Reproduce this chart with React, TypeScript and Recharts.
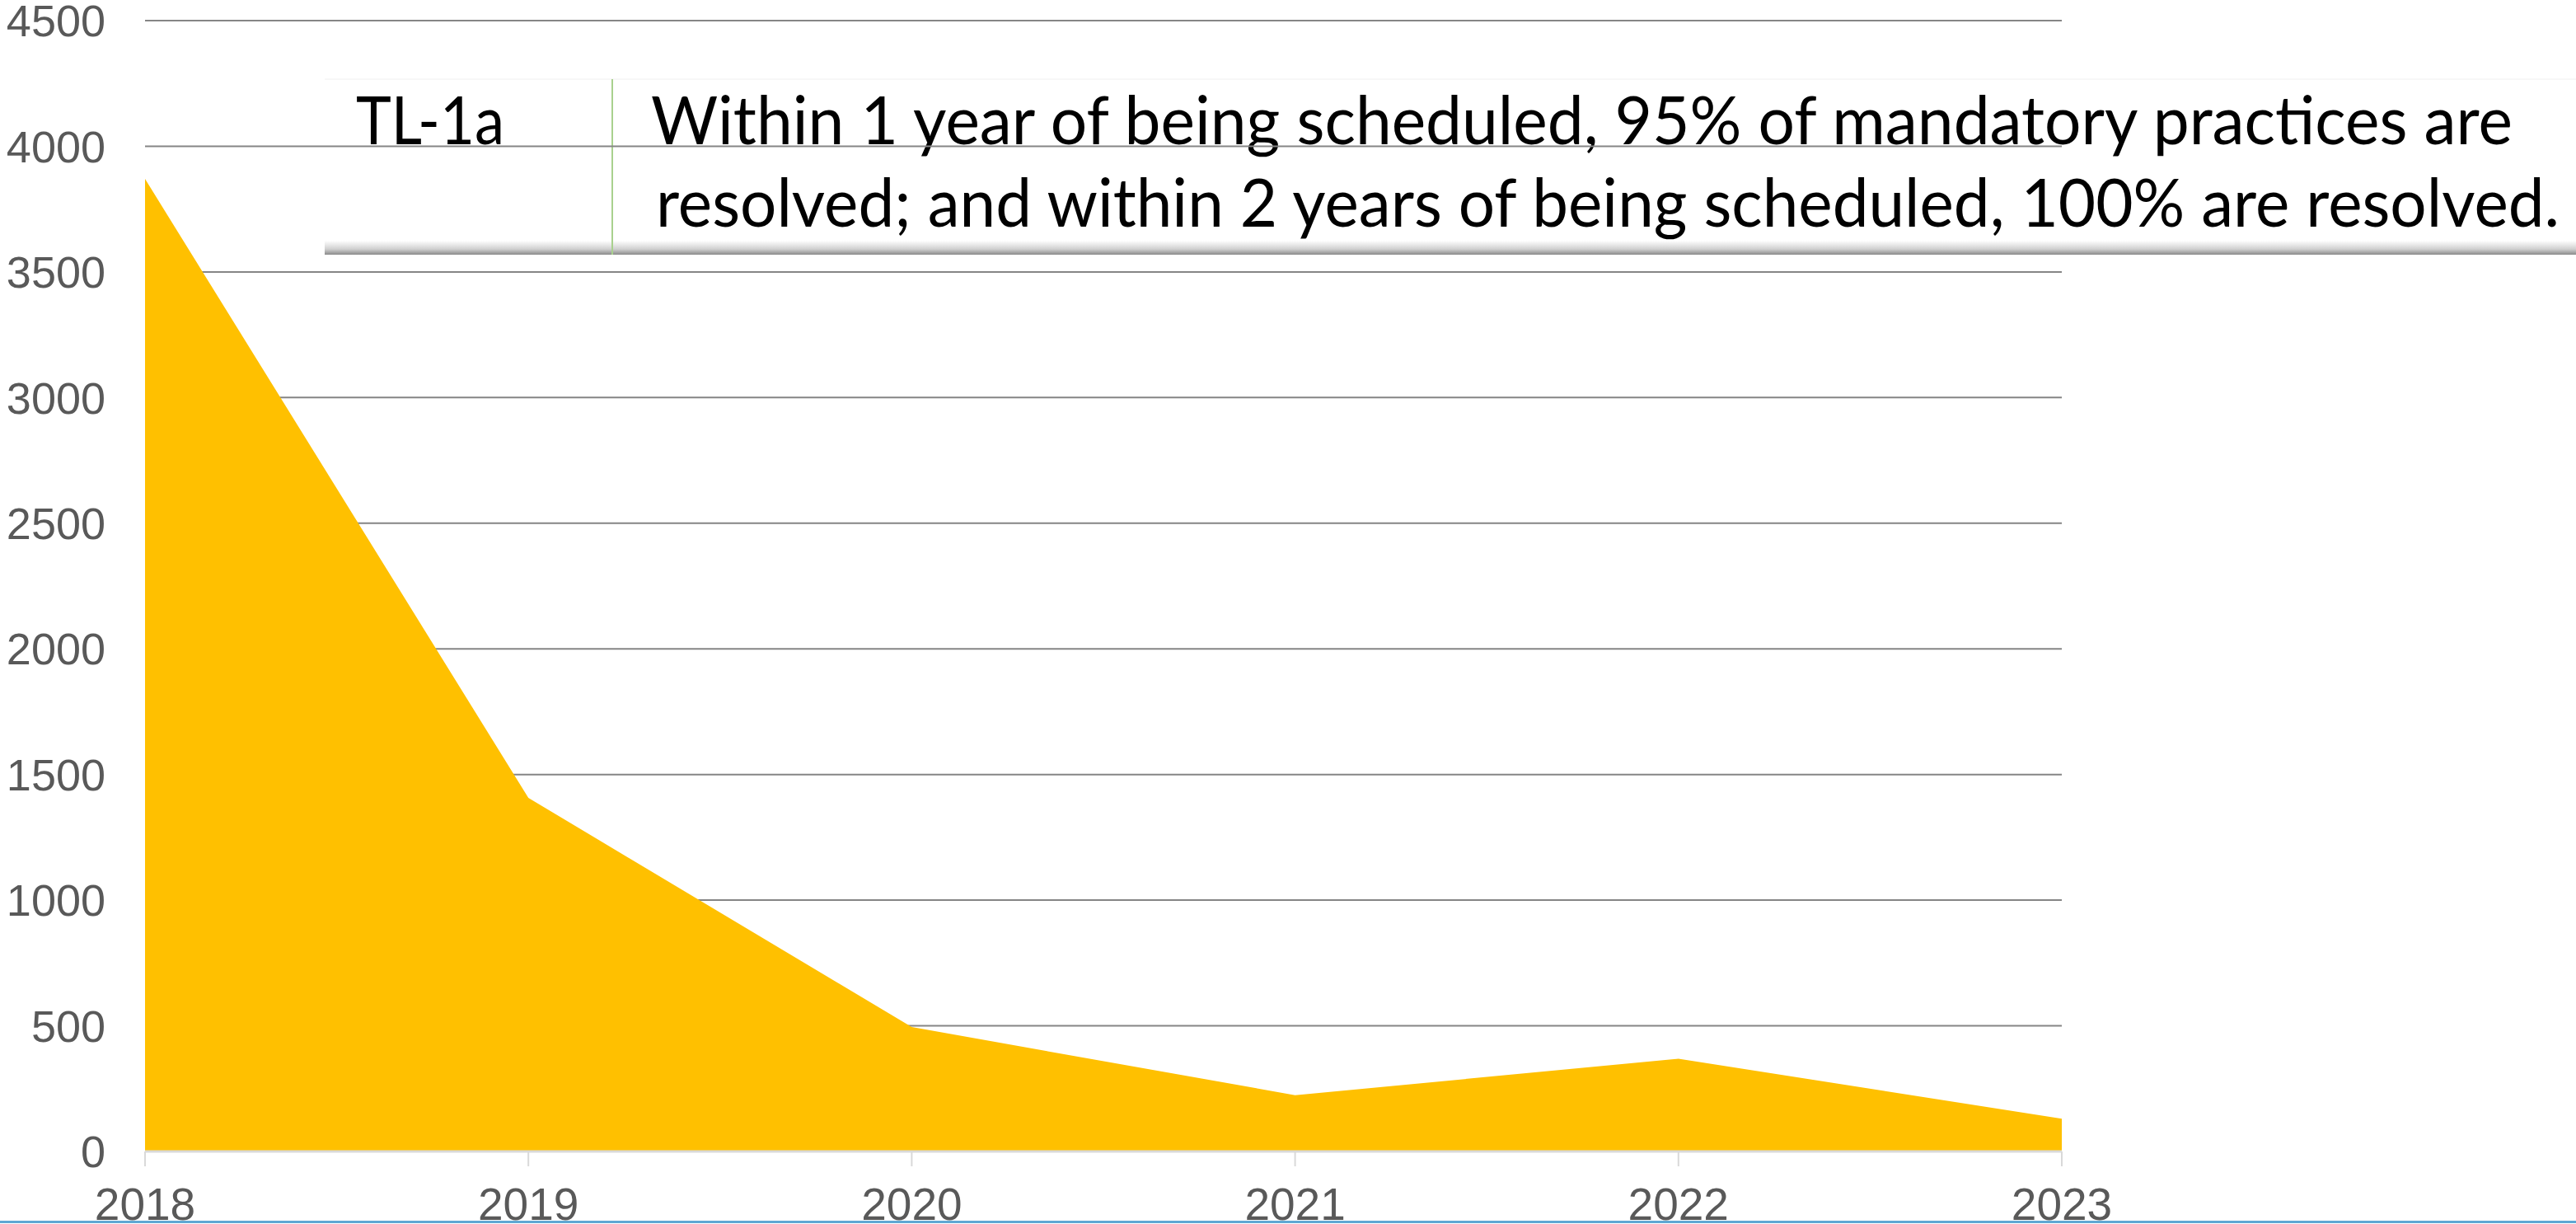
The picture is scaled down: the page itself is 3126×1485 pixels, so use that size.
import React from 'react';
import { AreaChart, Area, XAxis, YAxis, CartesianGrid } from 'recharts';

const years = ['2018', '2019', '2020', '2021', '2022', '2023'];
const counts = [3870, 1407, 495, 224, 369, 130];
const yTicks = [0, 500, 1000, 1500, 2000, 2500, 3000, 3500, 4000, 4500];
const boxCode = 'TL-1a';
const boxLines = [
  'Within 1 year of being scheduled, 95% of mandatory practices are',
  'resolved; and within 2 years of being scheduled, 100% are resolved.',
];

const data = years.map((year, i) => ({ year, count: counts[i] }));

const W = 3126;
const H = 1485;

function Callout() {
  return (
    <svg
      width={W}
      height={H}
      style={{ position: 'absolute', left: 0, top: 0, zIndex: 0 }}
    >
      <defs>
        <linearGradient id="shadow" x1="0" y1="0" x2="0" y2="1">
          <stop offset="0" stopColor="#ffffff" />
          <stop offset="0.6" stopColor="#d0d0d0" />
          <stop offset="1" stopColor="#8a8a8a" />
        </linearGradient>
      </defs>
      <rect x={394} y={96} width={W - 394} height={212} fill="#ffffff" />
      <line x1={394} y1={96} x2={W} y2={96} stroke="#f0f0f0" strokeWidth={1} />
      <rect x={394} y={292} width={W - 394} height={17} fill="url(#shadow)" />
      <line x1={743} y1={96} x2={743} y2={309} stroke="#a9d18e" strokeWidth={2} />
      <text
        x={432}
        y={175}
        fontFamily="Lato, 'Open Sans', sans-serif"
        fontSize={82}
        fill="#000"
        textLength={180}
        lengthAdjust="spacingAndGlyphs"
      >
        {boxCode}
      </text>
      <text
        x={790}
        y={175}
        fontFamily="Lato, 'Open Sans', sans-serif"
        fontSize={82}
        fill="#000"
        textLength={2259}
        lengthAdjust="spacingAndGlyphs"
      >
        {boxLines[0]}
      </text>
      <text
        x={796}
        y={275}
        fontFamily="Lato, 'Open Sans', sans-serif"
        fontSize={82}
        fill="#000"
        textLength={2310}
        lengthAdjust="spacingAndGlyphs"
      >
        {boxLines[1]}
      </text>
    </svg>
  );
}

export default function App() {
  return (
    <div
      style={{
        position: 'absolute',
        left: 0,
        top: 0,
        width: W,
        height: H,
        background: '#ffffff',
        overflow: 'hidden',
      }}
    >
      <Callout />
      <div style={{ position: 'absolute', left: 0, top: 0, zIndex: 1 }}>
        <AreaChart
          width={W}
          height={H}
          data={data}
          margin={{ top: 25, right: 624, bottom: 0, left: 0 }}
        >
          <CartesianGrid
            vertical={false}
            stroke="#858585"
            strokeWidth={2}
          />
          <Area
            type="linear"
            dataKey="count"
            fill="#FFC000"
            fillOpacity={1}
            stroke="none"
            isAnimationActive={false}
          />
          <XAxis
            dataKey="year"
            axisLine={{ stroke: '#d9d9d9', strokeWidth: 3 }}
            tickLine={{ stroke: '#d9d9d9', strokeWidth: 2 }}
            tickSize={18}
            tickMargin={26}
            tick={{ fill: '#595959', fontSize: 55, fontFamily: "'Liberation Sans', Arial, sans-serif" }}
            interval={0}
            height={88}
          />
          <YAxis
            type="number"
            domain={[0, 4500]}
            ticks={yTicks}
            width={176}
            axisLine={false}
            tickLine={false}
            tickSize={0}
            tickMargin={48}
            tick={{ fill: '#595959', fontSize: 54, fontFamily: "'Liberation Sans', Arial, sans-serif" }}
            interval={0}
          />
        </AreaChart>
      </div>
      <div
        style={{
          position: 'absolute',
          left: 0,
          top: 1481,
          width: W,
          height: 3,
          background: '#5fa8d3',
          zIndex: 2,
        }}
      />
    </div>
  );
}
